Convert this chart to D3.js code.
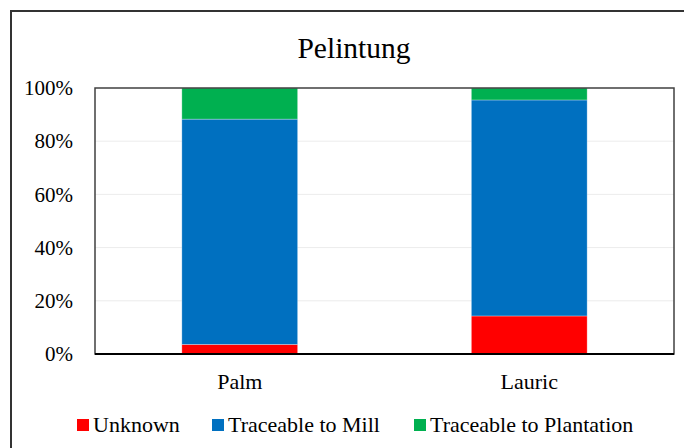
<!DOCTYPE html>
<html>
<head>
<meta charset="utf-8">
<script src="https://cdn.jsdelivr.net/npm/d3@7"></script>
<style>
  body { margin: 0; background: #fff; }
  svg text { font-family: "Liberation Serif", serif !important; fill: #000; }
</style>
</head>
<body>
<svg id="chart" width="684" height="448"></svg>
<script>
// data
var categories = ["Palm", "Lauric"];
var seriesNames = ["Unknown", "Traceable to Mill", "Traceable to Plantation"];
var unknown = [0.036, 0.143];
var toMill = [0.847, 0.812];
var toPlantation = [0.117, 0.045];
var yTicks = [0, 0.2, 0.4, 0.6, 0.8, 1.0];
var colors = ["#ff0000", "#0070c0", "#00b050"];

var svg = d3.select("#chart");
var margin = {left: 95, top: 88, right: 10, bottom: 94};
var width = 684 - margin.left - margin.right;
var height = 448 - margin.top - margin.bottom;

// outer frame (runs off the right and bottom of the picture)
svg.append("rect")
    .attr("x", 11).attr("y", 11)
    .attr("width", 700).attr("height", 460)
    .attr("fill", "none")
    .attr("stroke", "#333")
    .attr("stroke-width", 2);

// title
svg.append("text")
    .attr("x", 354).attr("y", 58)
    .attr("text-anchor", "middle")
    .attr("font-size", 29.5)
    .text("Pelintung");

var x = d3.scaleBand()
    .domain(categories)
    .range([0, width])
    .paddingInner(0.6)
    .paddingOuter(0.3);

var y = d3.scaleLinear()
    .domain([0, 1])
    .range([height, 0]);

var g = svg.append("g")
    .attr("transform", "translate(" + margin.left + "," + margin.top + ")");

// gridlines
g.selectAll(".grid")
    .data(yTicks.slice(1, -1))
    .enter().append("line")
    .attr("x1", 0).attr("x2", width)
    .attr("y1", function (d) { return y(d); })
    .attr("y2", function (d) { return y(d); })
    .attr("stroke", "#ececec")
    .attr("stroke-width", 1);

// stacked bars
var rows = categories.map(function (c, i) {
    return {cat: c, s0: unknown[i], s1: toMill[i], s2: toPlantation[i]};
});
var stack = d3.stack().keys(["s0", "s1", "s2"]);
var layers = stack(rows);

g.selectAll(".layer")
    .data(layers)
    .enter().append("g")
    .attr("fill", function (d, i) { return colors[i]; })
    .selectAll("rect")
    .data(function (d) { return d; })
    .enter().append("rect")
    .attr("x", function (d) { return x(d.data.cat); })
    .attr("width", x.bandwidth())
    .attr("y", function (d) { return y(d[1]); })
    .attr("height", function (d) { return y(d[0]) - y(d[1]); })
    .attr("stroke", "#ffffff")
    .attr("stroke-opacity", 0.4)
    .attr("stroke-width", 0.75);

// plot frame
g.append("rect")
    .attr("x", 0).attr("y", 0)
    .attr("width", width).attr("height", height)
    .attr("fill", "none")
    .attr("stroke", "#404040")
    .attr("stroke-width", 1.5);

g.append("line")
    .attr("x1", 0).attr("x2", width)
    .attr("y1", height).attr("y2", height)
    .attr("stroke", "#000")
    .attr("stroke-width", 2);

// y axis labels
var yAxis = d3.axisLeft(y)
    .tickValues(yTicks)
    .tickFormat(d3.format(".0%"))
    .tickSize(0)
    .tickPadding(22);
var ya = g.append("g").call(yAxis);
ya.select(".domain").remove();
ya.selectAll("text").attr("font-size", 21);

// x axis labels
var xAxis = d3.axisBottom(x).tickSize(0).tickPadding(19);
var xa = g.append("g").attr("transform", "translate(0," + height + ")").call(xAxis);
xa.select(".domain").remove();
xa.selectAll("text").attr("font-size", 22);

// legend
var legendX = [77, 212, 414];
var legend = svg.selectAll(".legend")
    .data(seriesNames)
    .enter().append("g")
    .attr("transform", function (d, i) { return "translate(" + legendX[i] + ",419)"; });
legend.append("rect")
    .attr("width", 12).attr("height", 12)
    .attr("fill", function (d, i) { return colors[i]; });
legend.append("text")
    .attr("x", 16).attr("y", 13)
    .attr("font-size", 22)
    .text(function (d) { return d; });
</script>
</body>
</html>
